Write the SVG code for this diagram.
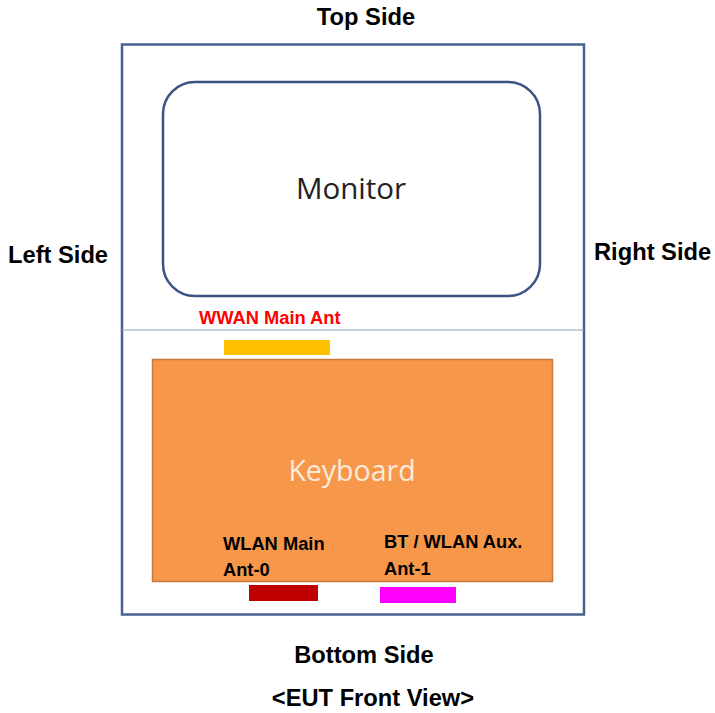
<svg xmlns="http://www.w3.org/2000/svg" width="715" height="713" viewBox="0 0 715 713">
<style>
.lbl{font-family:"Liberation Sans",Arial,sans-serif;font-weight:bold;fill:#000}
.side{font-size:23.7px}
.ant{font-size:18.3px}
</style>
<rect width="715" height="713" fill="#fff"/>
<g id="eut">
<rect x="122" y="44.5" width="462" height="570" fill="none" stroke="#48618F" stroke-width="2.5"/>
<line x1="122" y1="330" x2="584" y2="330" stroke="#8BA0C4" stroke-width="1.2"/>
</g>
<g id="monitor">
<rect x="163" y="82" width="377" height="214" rx="32" fill="#fff" stroke="#3A5584" stroke-width="2.5"/>
<text x="351" y="199" text-anchor="middle" font-family="'Open Sans',sans-serif" font-size="29.5" fill="#222">Monitor</text>
</g>
<g id="keyboard">
<rect x="152.5" y="359.5" width="400" height="222" fill="#F7974A" stroke="#C67B3C" stroke-width="1.5"/>
<text x="352" y="481" text-anchor="middle" font-family="'Open Sans',sans-serif" font-size="28.5" fill="#FCEBDC">Keyboard</text>
</g>
<g id="wwan">
<rect x="224" y="340" width="106" height="15" fill="#FFC000"/>
<text class="lbl ant" x="199" y="324" style="fill:#FF0000">WWAN Main Ant</text>
</g>
<g id="wlan-main">
<rect x="249" y="585" width="69" height="16" fill="#C00000"/>
<text class="lbl ant" x="223" y="550">WLAN Main</text>
<text class="lbl ant" x="223" y="576">Ant-0</text>
</g>
<g id="bt-wlan-aux">
<rect x="380" y="587" width="76" height="16" fill="#FF00FF"/>
<text class="lbl ant" x="384" y="548">BT / WLAN Aux.</text>
<text class="lbl ant" x="384" y="575">Ant-1</text>
</g>
<g id="labels">
<text class="lbl side" x="366" y="25" text-anchor="middle">Top Side</text>
<text class="lbl side" x="8" y="263">Left Side</text>
<text class="lbl side" x="594" y="260">Right Side</text>
<text class="lbl side" x="364" y="663" text-anchor="middle">Bottom Side</text>
<text class="lbl side" x="373" y="706" text-anchor="middle">&lt;EUT Front View&gt;</text>
</g>
<g id="connectors"/>
</svg>
